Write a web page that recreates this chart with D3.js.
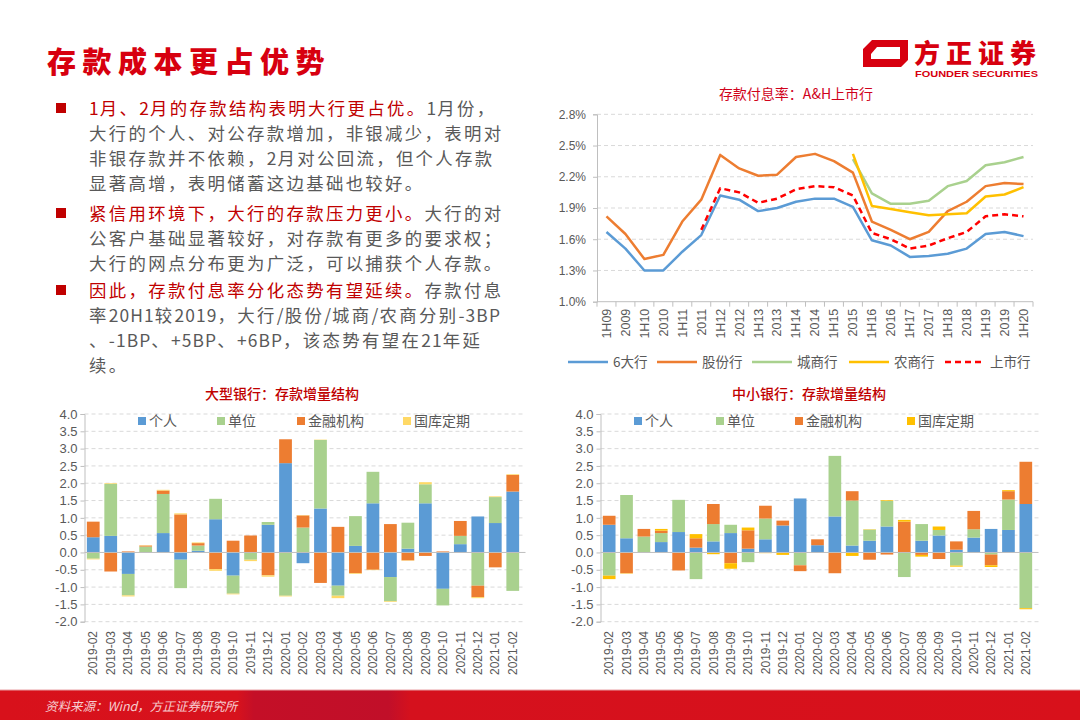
<!DOCTYPE html>
<html><head><meta charset="utf-8">
<script src="https://cdn.jsdelivr.net/npm/d3@7"></script>
<style>
html,body{margin:0;padding:0;background:#fff;}
svg{display:block;}
text{font-family:"Liberation Sans","Noto Sans CJK SC",sans-serif;}
.cn{font-family:"Noto Sans CJK SC","Liberation Sans",sans-serif;}
</style></head>
<body>
<svg id="c" width="1080" height="720"></svg>
<script>
// ---------- DATA ----------
const lineCats = ["1H09","2009","1H10","2010","1H11","2011","1H12","2012","1H13","2013","1H14","2014","1H15","2015","1H16","2016","1H17","2017","1H18","2018","1H19","2019","1H20"];
const big6 =      [1.67,1.51,1.30,1.30,1.48,1.64,2.02,1.98,1.87,1.90,1.96,1.99,1.99,1.91,1.59,1.54,1.43,1.44,1.46,1.51,1.65,1.67,1.63];
const jointStock =[1.82,1.65,1.41,1.45,1.77,1.98,2.41,2.28,2.21,2.22,2.39,2.42,2.35,2.24,1.77,1.69,1.60,1.67,1.87,1.96,2.11,2.14,2.13];
const cityBank =  [null,null,null,null,null,null,null,null,null,null,null,null,null,2.37,2.04,1.94,1.94,1.97,2.11,2.16,2.31,2.34,2.39];
const ruralBank = [null,null,null,null,null,null,null,null,null,null,null,null,null,2.42,1.92,1.89,1.86,1.83,1.84,1.85,2.01,2.03,2.10];
const listed =    [null,null,null,null,null,1.69,2.09,2.05,1.95,1.99,2.08,2.11,2.10,2.02,1.66,1.60,1.51,1.54,1.61,1.67,1.82,1.84,1.82];
const lineYTicks = [1.0,1.3,1.6,1.9,2.2,2.5,2.8];
const lineNames = ["6大行","股份行","城商行","农商行","上市行"];

const months = ["2019-02","2019-03","2019-04","2019-05","2019-06","2019-07","2019-08","2019-09","2019-10","2019-11","2019-12","2020-01","2020-02","2020-03","2020-04","2020-05","2020-06","2020-07","2020-08","2020-09","2020-10","2020-11","2020-12","2021-01","2021-02"];
const barKeys = ["个人","单位","金融机构","国库定期"];
const largePersonal  = [0.44,0.48,-0.62,0.00,0.56,-0.21,0.05,0.96,-0.67,0.00,0.80,2.58,-0.31,1.27,-0.96,0.19,1.42,-0.71,0.11,1.42,-1.05,0.24,1.04,0.85,1.76];
const largeCorp      = [-0.18,1.50,-0.62,0.17,1.13,-0.82,0.15,0.59,-0.52,-0.21,0.08,-1.25,0.72,1.98,-0.29,0.86,0.91,-0.70,0.75,0.55,-0.48,0.24,-0.96,0.75,-1.11];
const largeFin       = [0.45,-0.55,0.03,0.03,0.10,1.10,0.07,-0.48,0.34,0.49,-0.66,0.69,0.35,-0.88,0.74,-0.60,-0.50,0.82,-0.23,-0.10,0.03,0.43,-0.33,-0.43,0.48];
const largeTreasury  = [-0.02,0.02,-0.03,0.01,0.02,0.03,0.02,-0.05,-0.02,-0.04,-0.04,-0.02,0.01,0.01,-0.07,-0.02,-0.01,-0.02,-0.01,0.06,0.00,0.00,-0.03,0.02,0.02];
const smallPersonal  = [0.80,0.41,0.00,0.30,0.59,0.14,0.32,0.56,0.11,0.38,0.78,1.56,0.21,1.04,0.20,0.34,0.75,0.00,0.34,0.49,0.08,0.43,0.68,0.65,1.40];
const smallCorp      = [-0.67,1.25,0.46,0.26,0.93,-0.77,0.50,0.24,-0.28,0.60,0.00,-0.37,0.00,1.75,1.30,0.32,0.74,-0.71,0.48,0.16,-0.38,0.24,-0.06,0.88,-1.61];
const smallFin       = [0.26,-0.60,0.22,0.07,-0.52,0.27,0.58,-0.31,0.53,0.37,0.14,-0.17,0.17,-0.60,0.27,-0.21,-0.06,0.89,-0.07,-0.19,0.24,0.53,-0.31,0.24,1.22];
const smallTreasury  = [-0.10,-0.01,0.00,0.05,0.00,0.12,-0.05,-0.16,0.08,-0.02,-0.07,0.00,0.00,0.00,-0.10,0.01,0.02,0.05,-0.05,0.10,-0.03,0.00,-0.05,0.03,-0.03];
const barYTicks = [-2.0,-1.5,-1.0,-0.5,0.0,0.5,1.0,1.5,2.0,2.5,3.0,3.5,4.0];

// ---------- STYLE ----------
const GRAY = "#595959", GRID = "#d9d9d9", AXIS = "#bfbfbf", RED = "#c00000";
const C_BLUE="#5b9bd5", C_ORANGE="#ed7d31", C_GREEN="#a9d18e", C_YELLOW="#ffc000";

const svg = d3.select("#c");

// ---------- SLIDE FRAME ----------
svg.append("text").attr("class","cn").attr("x",47).attr("y",73)
  .attr("font-size",29).attr("font-weight",900).attr("letter-spacing",6.5)
  .attr("fill","#d7000f").text("存款成本更占优势");

const logo = svg.append("g");
logo.append("path").attr("fill","#d7000f").attr("fill-rule","evenodd")
  .attr("d","M872,40 L908,40 L908,60 L901,67 L863,67 L863,49 Z M880,47 L900,47 L900,59 L871,59 L871,54 L877,47 Z");
logo.append("text").attr("class","cn").attr("x",914).attr("y",63)
  .attr("font-size",26).attr("font-weight",900).attr("letter-spacing",6)
  .attr("fill","#d7000f").text("方正证券");
logo.append("text").attr("x",915).attr("y",77).attr("font-size",9).attr("font-weight",700)
  .attr("fill","#d7000f").attr("textLength",123).attr("lengthAdjust","spacingAndGlyphs").text("FOUNDER SECURITIES");

// bullets
const paras = [
  {y:108, lines:[[["1月、2月的存款结构表明大行更占优。",RED],["1月份，",GRAY]],
                 [["大行的个人、对公存款增加，非银减少，表明对",GRAY]],
                 [["非银存款并不依赖，2月对公回流，但个人存款",GRAY]],
                 [["显著高增，表明储蓄这边基础也较好。",GRAY]]]},
  {y:213, lines:[[["紧信用环境下，大行的存款压力更小。",RED],["大行的对",GRAY]],
                 [["公客户基础显著较好，对存款有更多的要求权；",GRAY]],
                 [["大行的网点分布更为广泛，可以捕获个人存款。",GRAY]]]},
  {y:290, lines:[[["因此，存款付息率分化态势有望延续。",RED],["存款付息",GRAY]],
                 [["率20H1较2019，大行/股份/城商/农商分别-3BP",GRAY]],
                 [["、-1BP、+5BP、+6BP，该态势有望在21年延",GRAY]],
                 [["续。",GRAY]]]}
];
paras.forEach(p=>{
  svg.append("rect").attr("x",56).attr("y",p.y-5).attr("width",10).attr("height",10).attr("fill",RED);
  p.lines.forEach((ln,i)=>{
    const t = svg.append("text").attr("class","cn").attr("x",89).attr("y",p.y+6.5+i*25.2)
      .attr("font-size",17.4);
    ln.forEach(seg=>{
      const runs = seg[0].match(/[\x00-\x7F]+|[^\x00-\x7F]+/g);
      runs.forEach(r=>{
        const ascii = /^[\x00-\x7F]+$/.test(r);
        t.append("tspan").attr("fill",seg[1]).attr("letter-spacing",ascii?1.1:2.35).text(r);
      });
    });
  });
});

// footer
const defs = svg.append("defs");
const gr = defs.append("linearGradient").attr("id","foot").attr("x1","0").attr("x2","1").attr("y1","0").attr("y2","0");
[[0,"#d8111b"],[0.22,"#d7121d"],[0.235,"#c40f27"],[0.36,"#c10f29"],[0.38,"#d5111d"],[1,"#d8111b"]]
  .forEach(s=>gr.append("stop").attr("offset",s[0]).attr("stop-color",s[1]));
svg.append("rect").attr("x",0).attr("y",690).attr("width",1080).attr("height",30).attr("fill","url(#foot)");
svg.append("line").attr("x1",0).attr("x2",1080).attr("y1",690).attr("y2",690).attr("stroke","#e8a0a4").attr("stroke-width",1);
svg.append("text").attr("class","cn").attr("x",45).attr("y",711).attr("font-size",12.5)
  .attr("font-style","italic").attr("fill","#f6cdd0").text("资料来源：Wind，方正证券研究所");

// ---------- LINE CHART ----------
(function(){
  const L=597, R=1033, T=114.3, B=301.7;
  const x = d3.scaleBand().domain(lineCats).range([L,R]);
  const y = d3.scaleLinear().domain([1.0,2.8]).range([B,T]);
  const g = svg.append("g");
  g.append("text").attr("class","cn").attr("x",796).attr("y",99).attr("text-anchor","middle")
    .attr("font-size",14).attr("fill","#d0021b").text("存款付息率：A&H上市行");
  g.selectAll(".gl").data(lineYTicks.filter(d=>d>1.0)).join("line")
    .attr("x1",L).attr("x2",R).attr("y1",d=>y(d)).attr("y2",d=>y(d))
    .attr("stroke",GRID).attr("stroke-dasharray","4,3");
  const ya = g.append("g").attr("transform",`translate(${L},0)`)
    .call(d3.axisLeft(y).tickValues(lineYTicks).tickSize(4).tickPadding(7).tickFormat(d=>d.toFixed(1)+"%"));
  ya.select(".domain").attr("stroke",AXIS);
  ya.selectAll(".tick line").attr("stroke",AXIS);
  ya.selectAll("text").attr("font-size",12).attr("fill",GRAY).attr("font-family","Liberation Sans");
  g.append("line").attr("x1",L).attr("x2",R).attr("y1",B).attr("y2",B).attr("stroke",AXIS);
  g.selectAll(".xt").data(lineCats.concat(["_end"])).join("line")
    .attr("x1",(d,i)=>L+i*x.step()).attr("x2",(d,i)=>L+i*x.step())
    .attr("y1",B).attr("y2",B+5).attr("stroke",AXIS);
  g.selectAll(".xl").data(lineCats).join("text")
    .attr("transform",d=>`translate(${x(d)+x.bandwidth()/2},${B+7}) rotate(-90)`)
    .attr("text-anchor","end").attr("dy","0.35em").attr("font-size",12.5).attr("fill",GRAY).text(d=>d);
  const series = [
    {name:lineNames[0], v:big6, c:C_BLUE},
    {name:lineNames[1], v:jointStock, c:C_ORANGE},
    {name:lineNames[2], v:cityBank, c:C_GREEN},
    {name:lineNames[3], v:ruralBank, c:C_YELLOW},
    {name:lineNames[4], v:listed, c:"#ff0000", dash:"6,4"}
  ];
  const line = d3.line().defined(d=>d.v!=null).x(d=>x(d.c)+x.bandwidth()/2).y(d=>y(d.v));
  series.forEach(s=>{
    g.append("path").attr("d",line(lineCats.map((c,i)=>({c,v:s.v[i]}))))
      .attr("fill","none").attr("stroke",s.c).attr("stroke-width",2.5)
      .attr("stroke-dasharray",s.dash||null).attr("stroke-linejoin","round");
  });
  const lx = [568,657,752,849,945];
  series.forEach((s,i)=>{
    g.append("line").attr("x1",lx[i]).attr("x2",lx[i]+40).attr("y1",362).attr("y2",362)
      .attr("stroke",s.c).attr("stroke-width",2.5).attr("stroke-dasharray",s.dash||null);
    g.append("text").attr("class","cn").attr("x",lx[i]+45).attr("y",362).attr("dy","0.35em")
      .attr("font-size",13.5).attr("fill",GRAY).text(s.name);
  });
})();

// ---------- BAR CHARTS ----------
function barChart(o){
  const T=414, B=621.7;
  const x = d3.scaleBand().domain(months).range([o.L,o.R]).paddingInner(0.27).paddingOuter(0.135);
  const y = d3.scaleLinear().domain([-2,4]).range([B,T]);
  const g = svg.append("g");
  g.append("text").attr("class","cn").attr("x",o.titleX).attr("y",399).attr("text-anchor","middle")
    .attr("font-size",14).attr("font-weight",500).attr("fill",RED).text(o.title);
  g.selectAll(".gl").data(barYTicks.filter(d=>d!==0)).join("line")
    .attr("x1",o.L).attr("x2",o.R+4).attr("y1",d=>y(d)).attr("y2",d=>y(d))
    .attr("stroke",GRID).attr("stroke-dasharray","4,3");
  const ya = g.append("g").attr("transform",`translate(${o.L},0)`)
    .call(d3.axisLeft(y).tickValues(barYTicks).tickSize(4).tickPadding(3).tickFormat(d=>d.toFixed(1)));
  ya.select(".domain").attr("stroke",AXIS);
  ya.selectAll(".tick line").attr("stroke",AXIS);
  ya.selectAll("text").attr("font-size",13).attr("fill",GRAY).attr("font-family","Liberation Sans");
  const rows = months.map((m,i)=>{const r={m}; barKeys.forEach((k,j)=>r[k]=o.vals[j][i]); return r;});
  const stack = d3.stack().keys(barKeys).offset(d3.stackOffsetDiverging)(rows);
  stack.forEach((layer,j)=>{
    g.selectAll(".b"+j).data(layer).join("rect")
      .attr("x",d=>x(d.data.m)).attr("width",x.bandwidth())
      .attr("y",d=>y(Math.max(d[0],d[1]))).attr("height",d=>Math.abs(y(d[0])-y(d[1])))
      .attr("fill",o.colors[j]);
  });
  g.append("line").attr("x1",o.L).attr("x2",o.R+4).attr("y1",y(0)).attr("y2",y(0)).attr("stroke",AXIS);
  g.selectAll(".xl").data(months).join("text")
    .attr("transform",d=>`translate(${x(d)+x.bandwidth()/2},631) rotate(-90)`)
    .attr("text-anchor","end").attr("dy","0.35em").attr("font-size",12).attr("fill",GRAY).text(d=>d);
  barKeys.forEach((k,j)=>{
    g.append("rect").attr("x",o.legX[j]).attr("y",417).attr("width",8).attr("height",8).attr("fill",o.colors[j]);
    g.append("text").attr("class","cn").attr("x",o.legX[j]+11).attr("y",421).attr("dy","0.35em")
      .attr("font-size",14).attr("fill",GRAY).text(k);
  });
}
barChart({L:84.5,R:521.5,title:"大型银行：存款增量结构",titleX:282,
  vals:[largePersonal,largeCorp,largeFin,largeTreasury],
  colors:[C_BLUE,C_GREEN,C_ORANGE,"#ffd966"], legX:[138,217,297,403]});
barChart({L:600.5,R:1034.5,title:"中小银行：存款增量结构",titleX:809,
  vals:[smallPersonal,smallCorp,smallFin,smallTreasury],
  colors:[C_BLUE,C_GREEN,C_ORANGE,C_YELLOW], legX:[634,716,795,907]});
</script>
</body></html>
